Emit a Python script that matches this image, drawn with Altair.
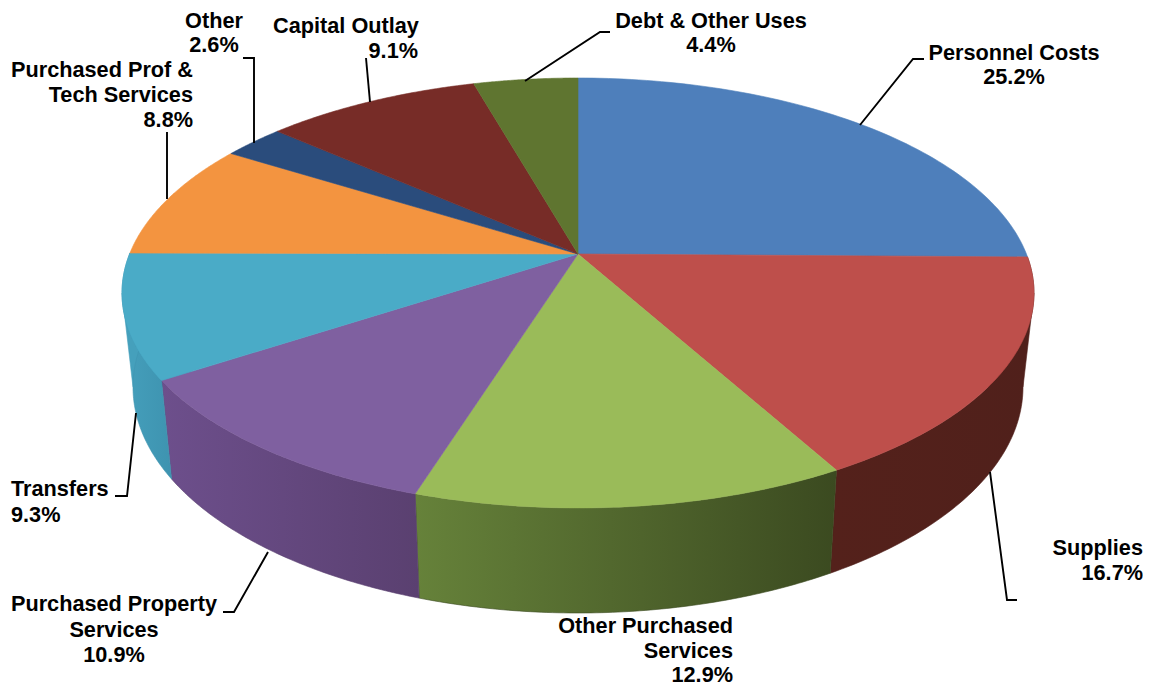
import numpy as np
import pandas as pd
import altair as alt

categories = ["Personnel Costs", "Supplies", "Other Purchased Services",
              "Purchased Property Services", "Transfers", "Purchased Prof & Tech Services",
              "Other", "Capital Outlay", "Debt & Other Uses"]
shares = [25.2, 16.7, 12.9, 10.9, 9.3, 8.8, 2.6, 9.1, 4.4]
top_colors = ["#4e7fbb", "#be4f4b", "#9abb59", "#7f60a0", "#4aabc7", "#f39440", "#2a4c7c", "#772c27", "#5f7530"]
wall_left = ["#3a5f8c", "#54211b", "#66823a", "#6d4f8c", "#45a0bc", "#b66f2f", "#1f3a5e", "#5a211d", "#47581f"]
wall_right = ["#3a5f8c", "#50201b", "#3b4a20", "#5a4070", "#3e93b0", "#b66f2f", "#1f3a5e", "#5a211d", "#47581f"]
visible_walls = [1, 2, 3, 4]

label_text = ["Personnel Costs", "25.2%", "Debt & Other Uses", "4.4%", "Capital Outlay", "9.1%",
              "Other", "2.6%", "Purchased Prof &", "Tech Services", "8.8%", "Transfers", "9.3%",
              "Purchased Property", "Services", "10.9%", "Other Purchased", "Services", "12.9%",
              "Supplies", "16.7%"]
label_x = [1014, 1014, 711, 711, 346, 418, 214, 214, 193, 193, 193, 11, 11, 114, 114, 114, 733, 733, 733, 1143, 1143]
label_y = [53, 77, 21, 45, 26, 51, 21, 45, 70, 95, 120, 489, 515, 604, 630, 655, 626, 651, 675, 548, 573]
label_align = ["center", "center", "center", "center", "center", "right", "center", "center",
               "right", "right", "right", "left", "left", "center", "center", "center",
               "right", "right", "right", "right", "right"]

leaders = {
    "Personnel Costs": ([924, 913, 860], [59, 59, 125]),
    "Debt & Other Uses": ([610, 600, 525], [32, 32, 81]),
    "Capital Outlay": ([366, 370], [58, 102]),
    "Other": ([243, 254, 254], [58, 58, 143]),
    "Purchased Prof": ([167, 167], [132, 199]),
    "Transfers": ([115, 127, 136], [496, 496, 413]),
    "Purchased Property": ([223, 234, 268], [612, 612, 552]),
    "Supplies": ([1017, 1007, 990], [600, 600, 472]),
}

CX, CY, RX, RY = 578.0, 293.0, 456.0, 215.0
AX, AY = 578.0, 254.0
BX, BY, BRX, BRY = 578.0, 387.0, 445.0, 226.0

k = (CY - AY) / RY
a = (1 - np.sqrt(1 - k * k)) / k


def rim(theta):
    z = np.sin(theta) + 1j * np.cos(theta)
    return (z + 1j * a) / (1 - 1j * a * z)


W, H = 1135, 671
xs = alt.Scale(domain=[8, 8 + W], range=[0, W])
ys = alt.Scale(domain=[8, 8 + H], range=[0, H])
X = alt.X("x:Q", scale=xs, axis=None)
Y = alt.Y("y:Q", scale=ys, axis=None)
ORD = alt.Order("i:Q")

edges = np.cumsum([0] + shares) / sum(shares) * 2 * np.pi
layers = []


def poly(px, py, fill, stroke, sw=0.6):
    df = pd.DataFrame({"x": px, "y": py, "i": range(len(px))})
    return alt.Chart(df).mark_line(fill=fill, stroke=stroke, strokeWidth=sw, interpolate="linear-closed").encode(
        x=X, y=Y, order=ORD)


# silhouette between the two rims at the far right and far left
layers.append(poly([CX + RX, BX + BRX, BX + BRX - 60, CX + RX - 60], [CY, BY, BY, CY], wall_right[1], wall_right[1]))
layers.append(poly([CX - RX, BX - BRX, BX - BRX + 60, CX - RX + 60], [CY, BY, BY, CY], wall_left[4], wall_left[4]))

for n in visible_walls:
    w = rim(np.linspace(edges[n], edges[n + 1], 80))
    tx, ty = CX + RX * w.real, CY - RY * w.imag
    bx, by = BX + BRX * w.real, BY - BRY * w.imag
    grad = alt.LinearGradient(gradient="linear", x1=0, x2=1, y1=0, y2=0,
                              stops=[alt.GradientStop(color=wall_left[n], offset=0),
                                     alt.GradientStop(color=wall_right[n], offset=1)])
    layers.append(poly(np.r_[tx, bx[::-1]], np.r_[ty, by[::-1]], grad, wall_right[n]))

for n in range(len(shares)):
    w = rim(np.linspace(edges[n], edges[n + 1], 80))
    tx, ty = CX + RX * w.real, CY - RY * w.imag
    layers.append(poly(np.r_[AX, tx], np.r_[AY, ty], top_colors[n], top_colors[n]))

for name, (lx, ly) in leaders.items():
    df = pd.DataFrame({"x": lx, "y": ly, "i": range(len(lx))})
    layers.append(alt.Chart(df).mark_line(color="#000000", strokeWidth=1.9).encode(x=X, y=Y, order=ORD))

lab = pd.DataFrame({"t": label_text, "x": label_x, "y": label_y, "a": label_align})
for al in ["left", "center", "right"]:
    layers.append(alt.Chart(lab[lab.a == al]).mark_text(
        font="Liberation Sans", fontWeight="bold", fontSize=21.7, color="#000000", align=al, baseline="middle"
    ).encode(x=X, y=Y, text="t:N"))

chart = alt.layer(*layers).properties(width=W, height=H, padding=0).configure_view(stroke=None)
chart.save("out.html", embed_options={"renderer": "svg", "actions": False})
